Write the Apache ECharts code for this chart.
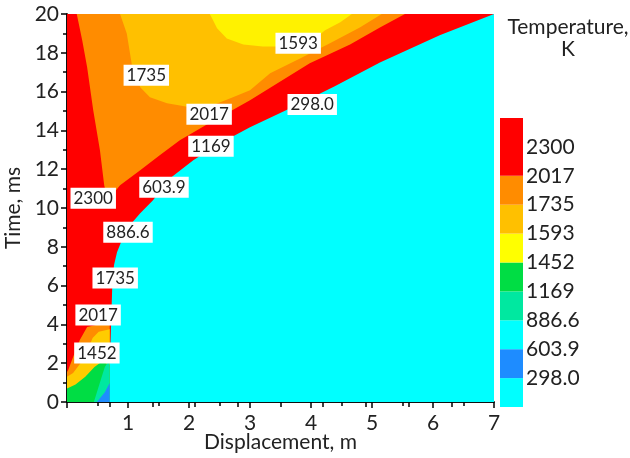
<!DOCTYPE html>
<html><head><meta charset="utf-8">
<script src="https://cdn.jsdelivr.net/npm/echarts@6/dist/echarts.min.js"></script>
<style>html,body{margin:0;padding:0;background:#fff}#c{width:630px;height:458px}</style>
</head><body><div id="c"></div>
<script>
// ---- data (displacement m, time ms) ----
const plateau = [[0,0],[7,0],[7,20],[0,20]]; // 298 K background region
const redZone = [[0,20],[7,20],[6.11,18.9],[5.13,17.5],[4.39,16.27],[3.66,15.14],[3.0,14.16],[2.51,13.34],[2.07,12.46],[1.69,11.53],[1.41,10.4],[1.2,9.73],[1.03,9.11],[0.92,8.5],[0.82,7.72],[0.77,7.05],[0.74,5.77],[0.72,3.71],[0.70,1.65],[0.69,0],[0,0]];
const orangeZone = [[0.16,20],[5.54,20],[5.13,19.31],[4.64,18.43],[3.98,17.46],[3.0,15.55],[2.30,14.32],[1.85,13.49],[1.52,12.72],[1.2,11.95],[0.87,11.17],[0.67,10.4],[0.61,11.17],[0.54,12.98],[0.43,15.04],[0.33,17.25],[0.25,18.64]];
const lightOrangeZone = [[0.84,20],[5.16,20],[4.8,19.31],[4.31,18.49],[3.82,17.71],[3.33,16.94],[3.0,16.07],[2.72,15.71],[2.43,15.35],[2.02,15.19],[1.64,15.4],[1.36,15.71],[1.2,16.22],[1.07,17.25],[0.98,19.0],[0.87,20]];
const yellowZone = [[2.34,20],[4.67,20],[4.48,19.57],[4.23,19.16],[4.07,18.74],[3.82,18.43],[3.44,18.33],[3.21,18.33],[2.89,18.43],[2.62,18.74],[2.46,19.26],[2.38,19.77]];
const baseOrange = [[0.70,4.12],[0.33,3.86],[0.21,3.19],[0.10,2.32],[0.02,1.65],[0,1.55],[0,0],[0.70,0]];
const baseYellow = [[0.70,3.75],[0.52,3.62],[0.42,3.3],[0.34,2.7],[0.22,2.0],[0.1,1.5],[0,1.3],[0,0],[0.70,0]];
const baseGreen = [[0.70,1.9],[0.58,2.1],[0.45,1.8],[0.3,1.3],[0.14,0.9],[0,0.7],[0,0],[0.70,0]];
const baseTeal = [[0.70,2.2],[0.62,1.8],[0.54,1.0],[0.47,0.3],[0.44,0],[0.70,0]];
const baseBlue = [[0.49,0],[0.62,0.5],[0.70,0.98],[0.70,0]];

const contourLabels = ['1593','1735','2017','298.0','1169','603.9','2300','886.6','1735','2017','1452'];
const contourLabelPos = [[3.79,18.49],[1.30,16.84],[2.33,14.83],[4.02,15.34],[2.36,13.18],[1.59,11.07],[0.43,10.5],[1.0,8.75],[0.79,6.39],[0.51,4.48],[0.49,2.52]];

const cbLabels = ['298.0','603.9','886.6','1169','1452','1593','1735','2017','2300'];
const cbSizes = [1,1,1,1,1,1,1,1,2];
const cbColors = ['#00ffff','#1e8cff','#00ffff','#00e8a0','#00dd44','#ffff00','#ffc000','#ff8c00','#ff0000'];

const zones = [
  [plateau,'#00ffff'],[redZone,'#ff0000'],[orangeZone,'#ff8c00'],[lightOrangeZone,'#ffc000'],[yellowZone,'#fff200'],
  [baseOrange,'#ff8c00'],[baseYellow,'#ffcc00'],[baseGreen,'#00dd44'],[baseTeal,'#00e8a0'],[baseBlue,'#1e8cff']
];

const FONT = 'Lato';
const series = zones.map(([pts,col]) => ({
  type:'custom', xAxisIndex:0, yAxisIndex:0, silent:true, data: pts, z:1,
  renderItem:(params, api) => {
    if (params.dataIndex !== 0) return null;
    const points = pts.map(p => api.coord(p));
    return {type:'polygon', shape:{points}, style:{fill:col}};
  }
}));
series.push({
  type:'scatter', xAxisIndex:0, yAxisIndex:0, symbolSize:1, silent:true, z:10,
  itemStyle:{opacity:0},
  data: contourLabelPos.map((p,i)=>({value:p, name:contourLabels[i]})),
  label:{show:true, position:'inside', formatter:p=>p.name, backgroundColor:'#ffffff', opacity:1, padding:[3,3,1,3],
         color:'#222', fontSize:17, fontFamily:FONT}
});
cbSizes.forEach((s,i)=>{
  series.push({type:'bar', xAxisIndex:2, yAxisIndex:2, stack:'cb', barWidth:'100%', silent:true,
    data:[s], itemStyle:{color:cbColors[i]}});
});

const tickStyle = {color:'#000', width:1.5};
const chart = echarts.init(document.getElementById('c'));
chart.setOption({
  animation:false,
  textStyle:{fontFamily:FONT},
  title:{text:'Temperature,\nK', left:563, top:11, textAlign:'center',
    textStyle:{fontSize:21, fontWeight:'normal', color:'#222', fontFamily:FONT, lineHeight:22, align:'center'}},
  grid:[{left:67, top:14, width:427, height:388, containLabel:false, outerBoundsMode:'none'},
        {left:500, top:118, width:23, height:289, containLabel:false, outerBoundsMode:'none'}],
  xAxis:[
    {type:'value', gridIndex:0, min:0, max:7, interval:1, position:'bottom',
     axisLine:{lineStyle:tickStyle}, axisTick:{length:6, lineStyle:tickStyle},
     minorTick:{show:true, splitNumber:2, length:4, lineStyle:tickStyle}, splitLine:{show:false},
     axisLabel:{fontSize:21, color:'#222', margin:11, formatter:v=>v===0?'':String(v)},
     name:'Displacement, m', nameLocation:'middle', nameGap:30, nameMoveOverlap:false,
     nameTextStyle:{fontSize:21, color:'#222'}},
    {type:'value', gridIndex:0, min:0, max:10, interval:1, position:'top',
     axisLine:{lineStyle:tickStyle}, axisTick:{inside:true, length:5, lineStyle:tickStyle},
     axisLabel:{show:false}, splitLine:{show:false}},
    {type:'category', gridIndex:1, data:['cb'], show:false}
  ],
  yAxis:[
    {type:'value', gridIndex:0, min:0, max:20, interval:2,
     axisLine:{show:true, lineStyle:tickStyle}, axisTick:{show:true, length:6, lineStyle:tickStyle},
     minorTick:{show:true, splitNumber:2, length:4, lineStyle:tickStyle}, splitLine:{show:false},
     axisLabel:{fontSize:21, color:'#222', margin:8},
     name:'Time, ms', nameLocation:'middle', nameGap:43, nameMoveOverlap:false,
     nameTextStyle:{fontSize:21, color:'#222'}},
    {type:'value', gridIndex:0, min:0, max:20, interval:2, position:'right',
     axisLine:{show:true, lineStyle:tickStyle}, axisTick:{show:true, inside:true, length:4, lineStyle:tickStyle},
     axisLabel:{show:false}, splitLine:{show:false}},
    {type:'value', gridIndex:1, min:0, max:10, interval:1, position:'right',
     axisLine:{show:false}, axisTick:{show:false}, splitLine:{show:false},
     axisLabel:{fontSize:21, color:'#222', margin:3, formatter:v=>(v>=1&&v<=9)?cbLabels[v-1]:''}}
  ],
  series
});
</script></body></html>
